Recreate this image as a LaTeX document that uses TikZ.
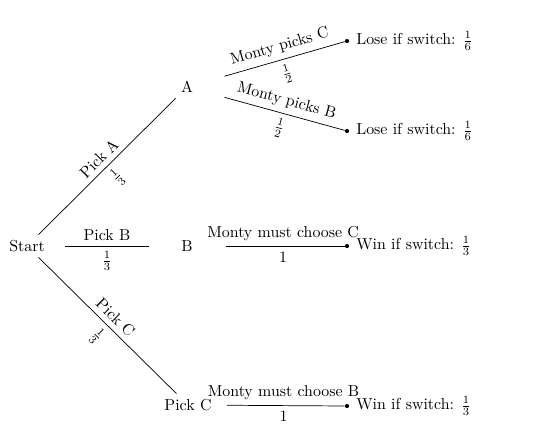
\documentclass[tikz,border=0pt]{standalone}
\begin{document}
\begin{tikzpicture}[x=0.629pt,y=-0.629pt,
  conn/.style={draw=black, line width=0.45pt},
  leafdot/.style={circle, fill=black, inner sep=0pt, minimum size=2.6pt},
  leaftext/.style={anchor=west, inner sep=0pt},
  cut/.style={shorten <=24.5pt}]
\useasboundingbox (0,0) rectangle (540,425);
% level nodes
\node (S) at (27,246) {Start};
\node (A) at (187,87) {A};
\node (B) at (187,246) {B};
\node (C) at (188,405) {Pick C};
% leaf dots
\node[leafdot] (l1) at (347,41) {};
\node[leafdot] (l2) at (347,131) {};
\node[leafdot] (l3) at (347,246) {};
\node[leafdot] (l4) at (347,406) {};
% leaf texts
\node[leaftext] (t1) at (356,41) {Lose if switch: $\frac{1}{6}$};
\node[leaftext] (t2) at (356,131) {Lose if switch: $\frac{1}{6}$};
\node[leaftext] (t3) at (356,246) {Win if switch: $\frac{1}{3}$};
\node[leaftext] (t4) at (356,406) {Win if switch: $\frac{1}{3}$};
% first level edges
\draw[conn] (S) -- node[above,sloped]{Pick A} node[below,sloped]{$\frac{1}{3}$} (A);
\draw[conn, shorten <=24pt, shorten >=24pt] (S.center) -- node[above]{Pick B} node[below]{$\frac{1}{3}$} (B.center);
\draw[conn] (S) -- node[above,sloped]{Pick C} node[below,sloped]{$\frac{1}{3}$} (C);
% second level edges
\draw[conn, cut] (A.center) -- node[pos=0.61,above,sloped]{Monty picks C} node[pos=0.61,below,sloped]{$\frac{1}{2}$} (l1);
\draw[conn, cut] (A.center) -- node[pos=0.61,above,sloped]{Monty picks B} node[pos=0.61,below,sloped]{$\frac{1}{2}$} (l2);
\draw[conn, cut] (B.center) -- node[pos=0.61,above]{Monty must choose C} node[pos=0.61,below]{1} (l3);
\draw[conn, cut] (C.center) -- node[pos=0.61,above]{Monty must choose B} node[pos=0.61,below]{1} (l4);
\end{tikzpicture}
\end{document}
